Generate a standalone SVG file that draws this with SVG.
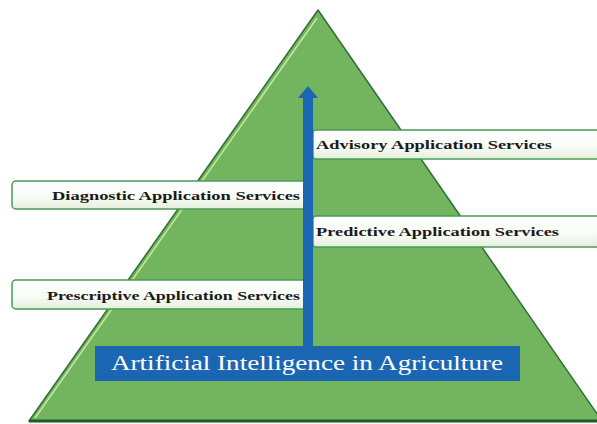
<svg xmlns="http://www.w3.org/2000/svg" width="597" height="424" viewBox="0 0 597 424">
<defs>
<linearGradient id="boxfill" x1="0" y1="0" x2="0" y2="1">
<stop offset="0" stop-color="#ffffff"/>
<stop offset="0.6" stop-color="#f8fbf5"/>
<stop offset="1" stop-color="#e4efdc"/>
</linearGradient>
<marker id="head" viewBox="0 0 12 20" refX="1" refY="10" markerWidth="12" markerHeight="20" markerUnits="userSpaceOnUse" orient="auto">
<path d="M0,0 L12,10 L0,20 z" fill="#1b66b3"/>
</marker>
<style>
.box{fill:url(#boxfill);stroke:#4a9a58;stroke-width:1.5}
.lbl{font-family:"Liberation Serif","Times New Roman",serif;font-weight:bold;font-size:13.5px;fill:#1a1a1a}
.title{font-family:"Liberation Serif","Times New Roman",serif;font-size:20px;fill:#ffffff}
</style>
</defs>
<rect width="597" height="424" fill="#ffffff"/>
<g id="pyramid">
<polygon points="318,10 29,421 602,421" fill="#72b55e" stroke="#2f6e36" stroke-width="1.5" stroke-linejoin="round"/>
<line x1="317" y1="18" x2="35" y2="418" stroke="#c9e6a6" stroke-width="1.5"/>
<line x1="29" y1="421" x2="597" y2="421" stroke="#1f5a28" stroke-width="3"/>
</g>
<g id="advisory">
<rect class="box" x="313" y="130" width="290" height="29" rx="3"/>
<text class="lbl" x="316" y="148.5" textLength="236" lengthAdjust="spacingAndGlyphs">Advisory Application Services</text>
</g>
<g id="diagnostic">
<rect class="box" x="12" y="181" width="300" height="28" rx="4"/>
<text class="lbl" x="52" y="199.5" textLength="248" lengthAdjust="spacingAndGlyphs">Diagnostic Application Services</text>
</g>
<g id="predictive">
<rect class="box" x="313" y="216" width="290" height="31" rx="3"/>
<text class="lbl" x="316" y="235.5" textLength="243" lengthAdjust="spacingAndGlyphs">Predictive Application Services</text>
</g>
<g id="prescriptive">
<rect class="box" x="12" y="280" width="300" height="29" rx="4"/>
<text class="lbl" x="47" y="299.5" textLength="253" lengthAdjust="spacingAndGlyphs">Prescriptive Application Services</text>
</g>
<g id="connectors">
<line x1="308" y1="347" x2="308" y2="97" stroke="#1b66b3" stroke-width="10" marker-end="url(#head)"/>
</g>
<g id="ai-agriculture">
<rect x="95" y="346" width="425" height="35" fill="#1b66b3"/>
<text class="title" x="111" y="370" textLength="392" lengthAdjust="spacingAndGlyphs">Artificial Intelligence in Agriculture</text>
</g>
</svg>
